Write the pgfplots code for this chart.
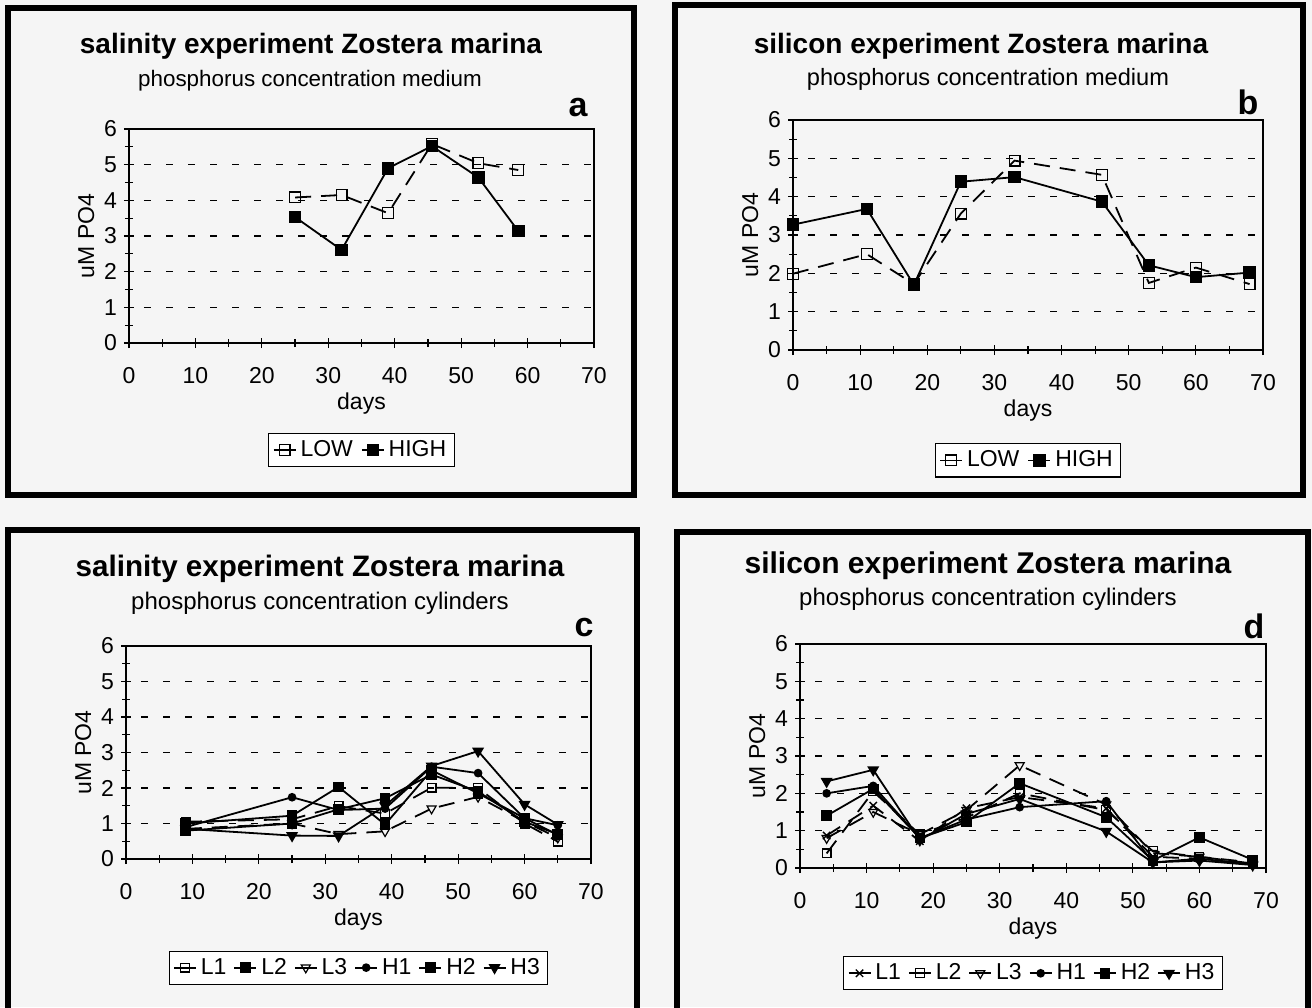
\documentclass[border=0pt]{standalone}
\usepackage{pgfplots}
\pgfplotsset{compat=1.18}
\usepackage{fontspec}
\setmainfont{Liberation Sans}
\newcommand{\tfont}[1]{\bfseries\fontsize{#1}{16}\selectfont}
\newcommand{\sfont}{\fontsize{11}{13}\selectfont}
\newcommand{\lfont}{\fontsize{11.5}{13}\selectfont}
\pgfplotsset{
  panel/.style={
    scale only axis, anchor=south west,
    xmin=0,xmax=70,ymin=0,ymax=6,
    xtick={0,10,...,70}, minor xtick={5,15,...,65},
    ytick={0,...,6}, minor ytick={0.5,1.5,...,5.5},
    tick align=center, tick pos=left,
    major tick length=5pt, minor tick length=4pt,
    tick style={black, line width=0.6pt},
    axis line style={black, line width=0.6pt},
    ymajorgrids,
    major grid style={black, line width=0.7pt, dash pattern=on 3.5pt off 7.5pt, dash phase=3.5pt},
    ticklabel style={font=\lfont},
    /pgf/number format/assume math mode=true,
    xticklabel shift=6pt,
    xlabel={days}, ylabel={uM PO4},
    label style={font=\lfont},
    xlabel style={yshift=2pt},
    ylabel shift=-2pt,
    legend style={draw=black, line width=0.6pt, font=\lfont, legend columns=-1,
      inner xsep=2pt, inner ysep=1.5pt,
      /tikz/every even column/.append style={column sep=2pt}},
    legend image code/.code={\draw[mark repeat=2,mark phase=2,##1,solid] plot coordinates {(0pt,0pt) (5.5pt,0pt) (11pt,0pt)};},
  },
  base/.style={black, line width=0.9pt},
  dsh/.style={dash pattern=on 8pt off 5pt},
  opensq/.style={base, mark=square, mark size=#1, mark options={solid, fill=white, line width=0.6pt}},
  fillsq/.style={base, mark=square*, mark size=#1, mark options={solid, fill=black}},
  opentri/.style={base, mark=triangle, mark size=#1, mark options={solid, fill=white, rotate=180, line width=0.6pt}},
  filltri/.style={base, mark=triangle*, mark size=#1, mark options={solid, fill=black, rotate=180}},
  fillci/.style={base, mark=*, mark size=#1, mark options={solid, fill=black}},
  xmk/.style={base, mark=x, mark size=#1, mark options={solid, line width=0.7pt}},
}
\begin{document}
\begin{tikzpicture}
\useasboundingbox (0,0) rectangle (656pt,-503.5pt);
\fill[white!96!black] (0,0) rectangle (656pt,-503.5pt);
\clip (0,0) rectangle (656pt,-503.5pt);
% frames
\draw[line width=2.6pt] (4pt,-4pt) rectangle (317pt,-247.5pt);
\draw[line width=2.6pt] (337.5pt,-2.5pt) rectangle (651.5pt,-247.5pt);
\draw[line width=2.6pt] (4pt,-265pt) rectangle (318.5pt,-512pt);
\draw[line width=2.6pt] (338.5pt,-266pt) rectangle (654pt,-512pt);
% titles
\node[font=\tfont{14}] at (155.5pt,-23pt) {salinity experiment Zostera marina};
\node[font=\fontsize{11.2}{13}\selectfont] at (155pt,-40.5pt) {phosphorus concentration medium};
\node[font=\tfont{14}] at (490.5pt,-23pt) {silicon experiment Zostera marina};
\node[font=\fontsize{11.8}{13}\selectfont] at (494pt,-39.5pt) {phosphorus concentration medium};
\node[font=\tfont{14.8}] at (160pt,-284.5pt) {salinity experiment Zostera marina};
\node[font=\fontsize{12}{13}\selectfont] at (160pt,-301.5pt) {phosphorus concentration cylinders};
\node[font=\tfont{15}] at (494pt,-283pt) {silicon experiment Zostera marina};
\node[font=\fontsize{12}{13}\selectfont] at (494pt,-299.5pt) {phosphorus concentration cylinders};
\node[font=\bfseries\fontsize{17}{19}\selectfont] at (289pt,-54pt) {a};
\node[font=\bfseries\fontsize{17}{19}\selectfont] at (624pt,-51pt) {b};
\node[font=\bfseries\fontsize{17}{19}\selectfont] at (292pt,-314pt) {c};
\node[font=\bfseries\fontsize{17}{19}\selectfont] at (627pt,-313pt) {d};

% panel a
\begin{axis}[panel, at={(64.5pt,-171.5pt)}, width=232.5pt, height=107pt,
  legend style={at={(0.5,-0.5)}, anchor=center}]
\addplot[opensq=2.7pt, dsh] coordinates {(25,4.08) (32,4.15) (39,3.64) (45.6,5.58) (52.6,5.04) (58.6,4.85)};
\addlegendentry{LOW}
\addplot[fillsq=2.7pt] coordinates {(25,3.53) (32,2.61) (39,4.90) (45.6,5.52) (52.6,4.64) (58.6,3.14)};
\addlegendentry{HIGH}
\end{axis}

% panel b
\begin{axis}[panel, at={(396.5pt,-175pt)}, width=235pt, height=115pt,
  legend style={at={(0.5,-0.48)}, anchor=center}]
\addplot[opensq=2.7pt, dsh] coordinates {(0,1.99) (11,2.50) (18,1.72) (25,3.56) (33,4.94) (46,4.57) (53,1.75) (60,2.15) (68,1.72)};
\addlegendentry{LOW}
\addplot[fillsq=2.7pt] coordinates {(0,3.27) (11,3.68) (18,1.70) (25,4.39) (33,4.51) (46,3.87) (53,2.21) (60,1.90) (68,2.02)};
\addlegendentry{HIGH}
\end{axis}

% panel c
\begin{axis}[panel, at={(63pt,-429.5pt)}, width=232.5pt, height=106.5pt,
  legend style={at={(0.5,-0.51)}, anchor=center, /tikz/every even column/.append style={column sep=1.5pt}}]
\addplot[opensq=2.2pt, dsh] coordinates {(9,1.05) (25,1.12) (32,1.49) (39,1.28) (46,2.01) (53,2.0) (60,1.0) (65,0.49)};
\addlegendentry{L1}
\addplot[fillsq=2.2pt] coordinates {(9,1.0) (25,1.22) (32,2.03) (39,0.97) (46,2.5) (53,1.85) (60,1.15) (65,0.68)};
\addlegendentry{L2}
\addplot[opentri=2.6pt, dsh] coordinates {(9,0.85) (25,1.0) (32,0.7) (39,0.78) (46,1.42) (53,1.75) (60,1.05) (65,0.6)};
\addlegendentry{L3}
\addplot[fillci=1.7pt] coordinates {(9,0.9) (25,1.74) (32,1.38) (39,1.42) (46,2.6) (53,2.42) (60,1.15) (65,0.95)};
\addlegendentry{H1}
\addplot[fillsq=2.2pt] coordinates {(9,0.8) (25,1.0) (32,1.4) (39,1.71) (46,2.38) (53,1.9) (60,1.05) (65,0.7)};
\addlegendentry{H2}
\addplot[filltri=2.6pt] coordinates {(9,0.85) (25,0.66) (32,0.65) (39,1.5) (46,2.62) (53,3.04) (60,1.54) (65,0.97)};
\addlegendentry{H3}
\end{axis}

% panel d
\begin{axis}[panel, at={(400pt,-434pt)}, width=233pt, height=112pt,
  legend style={at={(0.5,-0.47)}, anchor=center, /tikz/every even column/.append style={column sep=1.5pt}}]
\addplot[xmk=2.6pt, dsh] coordinates {(4,0.87) (11,1.67) (18,0.72) (25,1.6) (33,1.9) (46,1.6) (53,0.3) (60,0.25) (68,0.1)};
\addlegendentry{L1}
\addplot[opensq=2.2pt, dsh] coordinates {(4,0.39) (11,2.05) (18,0.9) (25,1.35) (33,2.0) (46,1.55) (53,0.45) (60,0.3) (68,0.15)};
\addlegendentry{L2}
\addplot[opentri=2.6pt, dsh] coordinates {(4,0.8) (11,1.5) (18,0.9) (25,1.55) (33,2.75) (46,1.7) (53,0.4) (60,0.3) (68,0.12)};
\addlegendentry{L3}
\addplot[fillci=1.7pt] coordinates {(4,2.0) (11,2.2) (18,0.8) (25,1.3) (33,1.63) (46,1.79) (53,0.15) (60,0.25) (68,0.1)};
\addlegendentry{H1}
\addplot[fillsq=2.2pt] coordinates {(4,1.4) (11,2.12) (18,0.8) (25,1.23) (33,2.27) (46,1.36) (53,0.2) (60,0.82) (68,0.22)};
\addlegendentry{H2}
\addplot[filltri=2.6pt] coordinates {(4,2.32) (11,2.63) (18,0.75) (25,1.45) (33,1.85) (46,0.98) (53,0.15) (60,0.2) (68,0.08)};
\addlegendentry{H3}
\end{axis}
\end{tikzpicture}
\end{document}
